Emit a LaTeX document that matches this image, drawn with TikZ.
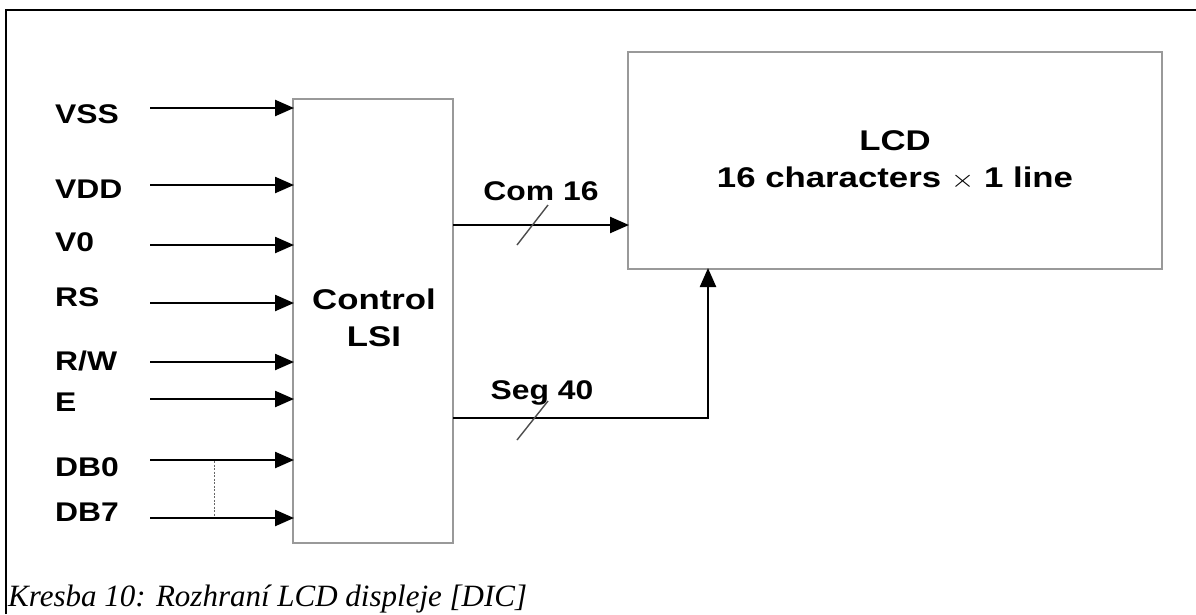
\documentclass[tikz,border=0pt]{standalone}
\usepackage{fontspec}
\usepackage{graphicx}
\setmainfont{Liberation Sans}
\newfontfamily\capfont{Liberation Serif}
\usetikzlibrary{arrows.meta}
\newcommand\stretchtxt[1]{\scalebox{1.18}[1]{#1}}
\newcommand\stretchbig[1]{\scalebox{1.22}[1]{#1}}
\tikzset{
  box/.style={draw=black!40, line width=2pt},
  sig/.style={line width=2.4pt, -{Triangle[length=19pt,width=16pt]}},
  lbl/.style={anchor=west, inner sep=0pt, font=\fontsize{27}{30}\selectfont\bfseries},
  mid/.style={inner sep=0pt, font=\fontsize{27}{32}\selectfont\bfseries, align=center},
  big/.style={inner sep=0pt, font=\fontsize{28.5}{37}\selectfont\bfseries, align=center},
  slash/.style={draw=black!70, line width=1.4pt},
}
\newcommand\inpin[4]{% name, node id, text y, arrow y
  \node[lbl] (l#2) at (55,#3) {\stretchtxt{#1}};
  \coordinate (s#2) at (150,#4);
  \coordinate (e#2) at (294,#4);
  \draw[sig] (s#2) -- (e#2);
}
\begin{document}
\begin{tikzpicture}[x=1pt,y=-1pt]
\useasboundingbox (0,0) rectangle (1196,614);
\fill[white] (0,0) rectangle (1196,614);
% frame
\draw[line width=2.4pt] (6,614) -- (6,10) -- (1196,10);
% boxes
\draw[box] (293,99) rectangle (453,543);
\node[big] (ctl) at (374,318) {\stretchbig{Control}\\\stretchbig{LSI}};
\draw[box] (628,52) rectangle (1162,269);
\node[big] (lcd) at (895,160) {\stretchbig{LCD}\\\stretchbig{16 characters $\times$ 1 line}};
% input labels
\inpin{VSS}{vss}{114}{108}
\inpin{VDD}{vdd}{189}{185}
\inpin{V0}{vo}{242}{245}
\inpin{RS}{rs}{297}{303}
\inpin{R/W}{rw}{361}{362}
\inpin{E}{en}{402}{399}
\inpin{DB0}{dbo}{467}{460}
\inpin{DB7}{dbs}{512}{518}
\coordinate (d0) at (214,461);
\coordinate (d7) at (214,516);
\draw[black!60, line width=1pt, dash pattern=on 2pt off 1.5pt] (d0) -- (d7);
% outputs
\coordinate (c0) at (453,225);
\coordinate (c1) at (629,225);
\draw[sig] (c0) -- (c1);
\node[mid] (com) at (541,191) {\stretchtxt{Com 16}};
\coordinate (cs1) at (517,245);
\coordinate (cs2) at (548,205);
\draw[slash] (cs1) -- (cs2);
\coordinate (g0) at (453,418);
\coordinate (g1) at (708,418);
\coordinate (g2) at (708,268);
\draw[sig] (g0) -- (g1) -- (g2);
\node[mid] (seg) at (542,393) {\stretchtxt{Seg 40}};
\coordinate (gs1) at (517,440);
\coordinate (gs2) at (548,401);
\draw[slash] (gs1) -- (gs2);
% caption
\node[anchor=base west, inner sep=0pt, font=\capfont\itshape\fontsize{31}{34}\selectfont] (cap) at (8,606) {Kresba 10: Rozhraní LCD displeje [DIC]};
\end{tikzpicture}
\end{document}
